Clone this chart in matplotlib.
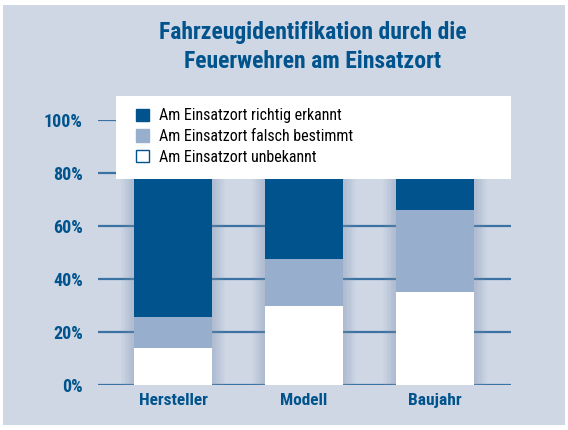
import matplotlib
matplotlib.use("Agg")
import matplotlib.pyplot as plt
from matplotlib.patches import Rectangle, Patch
import numpy as np

categories = ["Hersteller", "Modell", "Baujahr"]
unbekannt = [14, 30, 35]
falsch = [11.5, 17.5, 31]
richtig = [74.5, 52.5, 34]
series_labels = ["Am Einsatzort richtig erkannt",
                 "Am Einsatzort falsch bestimmt",
                 "Am Einsatzort unbekannt"]
yticks = [0, 20, 40, 60, 80, 100]
title = "Fahrzeugidentifikation durch die\nFeuerwehren am Einsatzort"

dark = "#00538c"
light = "#98aecd"
bg = "#cfd7e4"
grid_col = "#3a72a3"

plt.rcParams["font.family"] = ["Roboto Condensed", "Barlow Condensed", "DejaVu Sans"]

fig = plt.figure(figsize=(5.68, 4.30), dpi=100)
fig.patch.set_facecolor("white")
fig.patches.append(Rectangle((3 / 568, 5 / 430), 562 / 568, 420 / 430,
                             transform=fig.transFigure, facecolor=bg,
                             edgecolor="none", zorder=-10))

ax = fig.add_axes([98 / 568, 45 / 430, 413 / 568, 265 / 430])
ax.set_facecolor("none")
x = np.arange(len(categories))
w = 0.595

for t in yticks:
    ax.axhline(t, color=grid_col, lw=1.6, zorder=1)

# soft shadow around the bars
tot = np.array(unbekannt) + np.array(falsch) + np.array(richtig)
for k in range(1, 11):
    ax.bar(x, tot + k * 0.6, width=w + k * 0.02, bottom=-k * 0.35,
           color="#8196b8", alpha=0.045, zorder=2, linewidth=0)

ax.bar(x, unbekannt, width=w, color="white", zorder=3)
ax.bar(x, falsch, width=w, bottom=unbekannt, color=light, zorder=3)
ax.bar(x, richtig, width=w, bottom=np.array(unbekannt) + np.array(falsch),
       color=dark, zorder=3)

ax.set_xlim(-0.573, 2.58)
ax.set_ylim(0, 100)
ax.set_yticks(yticks)
ax.set_yticklabels([f"{t}%" for t in yticks], fontsize=13, fontweight="bold",
                   color=dark)
ax.set_xticks(x)
ax.set_xticklabels(categories, fontsize=12.5, fontweight="bold", color=dark)
ax.tick_params(length=0)
ax.tick_params(axis="y", pad=11)
ax.tick_params(axis="x", pad=6)
for s in ax.spines.values():
    s.set_visible(False)

# legend box
fig.patches.append(Rectangle((116 / 568, 1 - 179 / 430), 395 / 568, 83 / 430,
                             transform=fig.transFigure, facecolor="white",
                             edgecolor="none", zorder=5))
handles = [Patch(facecolor=dark, edgecolor=dark),
           Patch(facecolor=light, edgecolor=light),
           Patch(facecolor="white", edgecolor=dark, linewidth=1)]
leg = fig.legend(handles, series_labels, loc="upper left",
                 bbox_to_anchor=(130 / 568, 1 - 102 / 430), frameon=False,
                 fontsize=11.5, handlelength=0.8, handleheight=0.8,
                 handletextpad=0.6, labelspacing=0.35, borderaxespad=0)
leg.set_zorder(6)

fig.text(313 / 568, 1 - 47 / 430, title, ha="center", va="center",
         fontsize=17, fontweight="bold", color=dark, linespacing=1.35)

fig.savefig("out.png", dpi=100, facecolor="white")
